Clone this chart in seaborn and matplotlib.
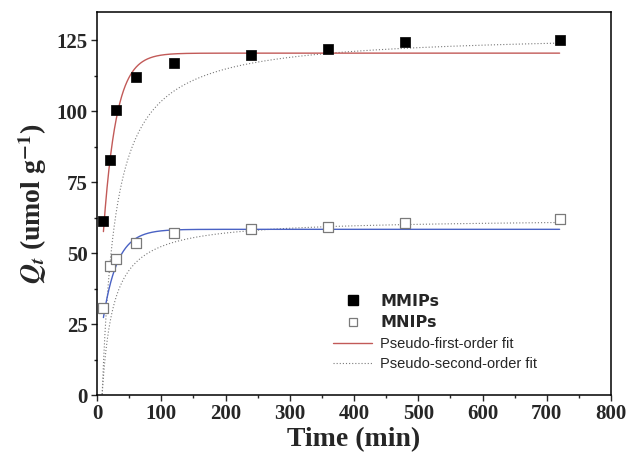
import numpy as np
import pandas as pd
import matplotlib
matplotlib.use("Agg")
import matplotlib.pyplot as plt
from matplotlib.lines import Line2D
from matplotlib.ticker import MultipleLocator
import seaborn as sns

# measured adsorption data (min, umol/g)
time_min = [10, 20, 30, 60, 120, 240, 360, 480, 720]
q_mmips = [61.5, 83.0, 100.6, 112.2, 117.1, 119.7, 121.8, 124.5, 125.1]
q_mnips = [30.5, 45.3, 48.0, 53.7, 57.2, 58.4, 59.2, 60.8, 62.1]

# fit parameters (MMIPs, MNIPs)
pfo_qe = [120.5, 58.4]
pfo_k1 = [0.050, 0.045]
pfo_t0 = [-3.0, -4.0]
pso_qe = [127.8, 62.3]
pso_k2 = [3.63e-4, 9.17e-4]
pso_t0 = [8.0, 8.0]

legend_labels = ["MMIPs", "MNIPs", "Pseudo-first-order fit", "Pseudo-second-order fit"]

df = pd.DataFrame({"Time": time_min, "MMIPs": q_mmips, "MNIPs": q_mnips})

t1 = np.linspace(10, 720, 1500)
t2 = np.linspace(8.05, 720, 3000)
pfo = [qe * (1 - np.exp(-k * (t1 - t0))) for qe, k, t0 in zip(pfo_qe, pfo_k1, pfo_t0)]
pso = [qe**2 * k * (t2 - t0) / (1 + qe * k * (t2 - t0)) for qe, k, t0 in zip(pso_qe, pso_k2, pso_t0)]

sns.set_style("ticks")
plt.rcParams["font.family"] = ["Liberation Serif", "DejaVu Serif"]
plt.rcParams["mathtext.fontset"] = "stix"

fig = plt.figure(figsize=(6.38, 4.65), dpi=100)
ax = fig.add_axes([97 / 638, 1 - 395 / 465, 514 / 638, 383 / 465])

red = "#c25a58"
blue = "#4a62c4"
dot = "#7a7a7a"

sns.lineplot(x=t1, y=pfo[0], ax=ax, color=red, lw=1.0, zorder=2)
sns.lineplot(x=t1, y=pfo[1], ax=ax, color=blue, lw=1.0, zorder=2)
for curve in pso:
    sns.lineplot(x=t2, y=curve, ax=ax, color=dot, lw=0.8, linestyle=(0, (1, 1.8)), zorder=1)

sns.scatterplot(data=df, x="Time", y="MMIPs", ax=ax, marker="s", s=48,
                color="black", edgecolor="black", linewidth=0.5, zorder=3)
sns.scatterplot(data=df, x="Time", y="MNIPs", ax=ax, marker="s", s=44,
                facecolor="white", edgecolor="#7a7a7a", linewidth=0.9, zorder=3)

ax.set_xlim(0, 800)
ax.set_ylim(0, 135)
ax.xaxis.set_major_locator(MultipleLocator(100))
ax.xaxis.set_minor_locator(MultipleLocator(50))
ax.yaxis.set_major_locator(MultipleLocator(25))
ax.yaxis.set_minor_locator(MultipleLocator(12.5))
ax.tick_params(which="major", direction="out", length=4.5, width=1.0, labelsize=15, pad=2)
ax.tick_params(which="minor", direction="out", length=2.5, width=1.0)
for lab in ax.get_xticklabels() + ax.get_yticklabels():
    lab.set_fontweight("bold")
for sp in ax.spines.values():
    sp.set_linewidth(1.1)
    sp.set_color("black")

ax.set_xlabel("Time (min)", fontsize=20, fontweight="bold", labelpad=2)
ax.set_ylabel(r"$\mathbfit{Q_t}$ (umol g$^{\mathbf{-1}}$)", fontsize=20, fontweight="bold", labelpad=6)

handles = [
    Line2D([], [], marker="s", color="black", linestyle="none", markersize=6.5),
    Line2D([], [], marker="s", markerfacecolor="white", markeredgecolor="#7a7a7a",
           linestyle="none", markersize=6, markeredgewidth=0.9),
    Line2D([], [], color=red, lw=1.0),
    Line2D([], [], color=dot, lw=0.8, linestyle=(0, (1, 1.8))),
]
leg = ax.legend(handles, legend_labels, loc="upper left", bbox_to_anchor=(0.459, 0.265),
                frameon=False, borderpad=0, borderaxespad=0, handlelength=2.7,
                handletextpad=0.55, labelspacing=0.45, prop={"family": "Liberation Sans", "size": 10.5})
for i, txt in enumerate(leg.get_texts()):
    if i < 2:
        txt.set_fontfamily("DejaVu Sans")
        txt.set_fontweight("bold")
        txt.set_fontsize(11.5)

fig.savefig("out.png", dpi=100)
